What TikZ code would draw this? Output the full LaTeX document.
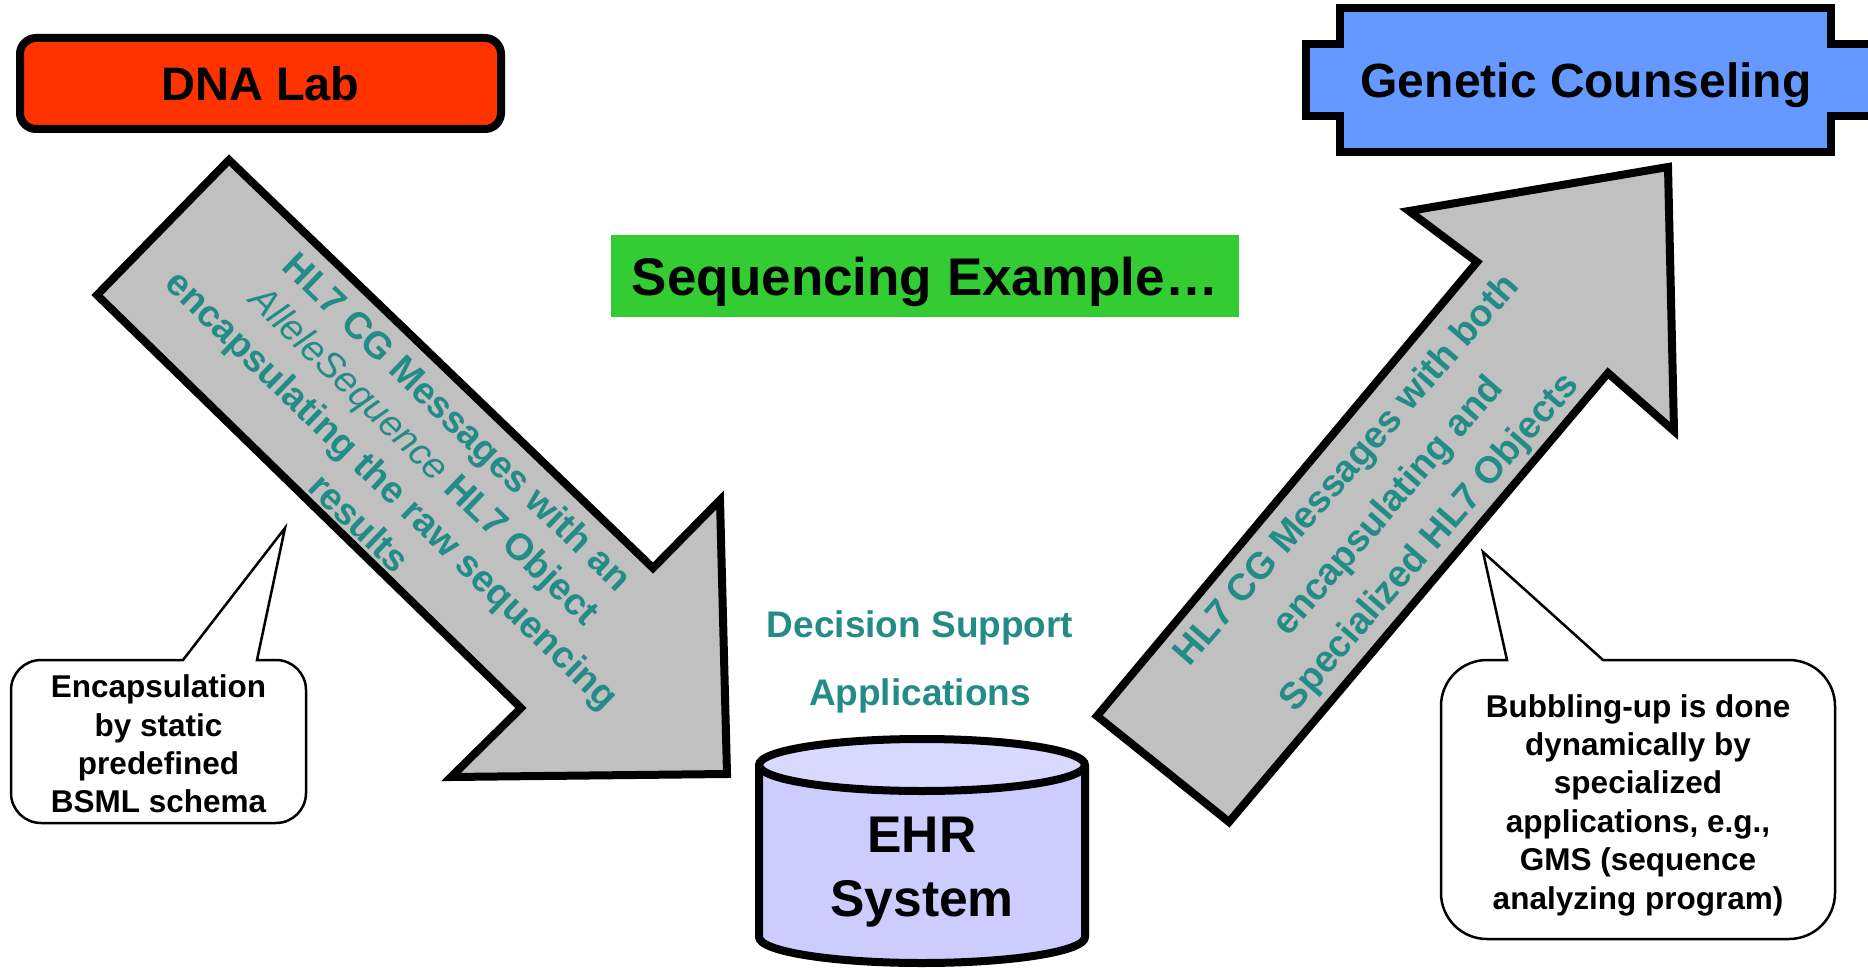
\documentclass[tikz,border=0pt]{standalone}
\usepackage{fontspec}
\setmainfont{Liberation Sans}
\definecolor{labred}{HTML}{FF3300}
\definecolor{counselblue}{HTML}{6699FF}
\definecolor{seqgreen}{HTML}{33CC33}
\definecolor{arrowgray}{HTML}{C0C0C0}
\definecolor{msgteal}{RGB}{35,140,135}
\definecolor{ehrbody}{HTML}{CCCCFF}
\definecolor{ehrtop}{HTML}{D9D9FF}
\tikzset{
  heavy/.style={draw=black, line width=8pt, line join=miter, miter limit=10},
  bigarrow/.style={heavy, fill=arrowgray},
  labbox/.style={heavy, fill=labred, rounded corners=16pt, minimum width=481pt,
    minimum height=91pt, inner sep=0pt, text depth=0pt,
    font=\bfseries\fontsize{47}{56}\selectfont},
  titletext/.style={inner sep=0pt, text depth=0pt, font=\bfseries\fontsize{48}{56}\selectfont},
  msg/.style={text=msgteal, align=center, inner sep=0pt,
    font=\bfseries\fontsize{37.5}{47}\selectfont},
  bubble/.style={draw=black, line width=2.5pt, fill=white, line join=miter},
  bubbletext/.style={align=center, inner sep=0pt, font=\bfseries\fontsize{31.5}{38.4}\selectfont}
}
\begin{document}
\begin{tikzpicture}[x=1pt,y=-1pt]
\useasboundingbox (0,0) rectangle (1868,968);
\clip (0,0) rectangle (1868,968);

% source of the data
\node[labbox] (dna) at (260.5,83.5) {DNA Lab};

% counseling box with side tabs
\draw[heavy, fill=counselblue]
  (1340,8) -- (1831,8) -- (1831,44) -- (1880,44) -- (1880,116) -- (1831,116)
  -- (1831,152) -- (1340,152) -- (1340,116) -- (1306,116) -- (1306,44)
  -- (1340,44) -- cycle;
\node[titletext] (gc) at (1586,80) {Genetic Counseling};

% heading
\node[fill=seqgreen, minimum width=628pt, minimum height=82pt, inner sep=0pt,
  text depth=0pt, font=\bfseries\fontsize{53}{60}\selectfont]
  (seq) at (925,276) {Sequencing Example…};

% downward block arrow
\draw[bigarrow] (229,160) -- (653,568) -- (720,500) -- (727,774)
  -- (451,777) -- (521,708) -- (97,295) -- cycle;
\node[msg, rotate=-44] (downmsg) at (409,472)
  {HL7 CG Messages with an\\
   {\mdseries\itshape AlleleSequence} HL7 Object\\
   encapsulating the raw sequencing\\
   results};

% upward block arrow
\draw[bigarrow] (1097,716) -- (1477,262) -- (1409,211) -- (1668,167)
  -- (1674,431) -- (1608,373) -- (1229,822) -- cycle;
\node[msg, rotate=49, font=\bfseries\fontsize{37.5}{55}\selectfont] (upmsg) at (1389,507)
  {HL7 CG Messages with both\\
   encapsulating and\\
   Specialized HL7 Objects};

% decision support label
\node[text=msgteal, align=center, inner sep=0pt,
  font=\bfseries\fontsize{37}{68}\selectfont] (dss) at (920,661.5)
  {Decision Support\\ Applications};

% EHR store drawn as a cylinder
\fill[ehrbody] (759,765) -- (759,937)
  arc[start angle=180, end angle=0, x radius=163, y radius=26]
  -- (1085,765) arc[start angle=0, end angle=180, x radius=163, y radius=26] -- cycle;
\draw[heavy] (759,765) -- (759,937)
  arc[start angle=180, end angle=0, x radius=163, y radius=26] -- (1085,765);
\draw[heavy, fill=ehrtop] (922,765) ellipse[x radius=163, y radius=26];
\node[align=center, inner sep=0pt, font=\bfseries\fontsize{51.6}{64}\selectfont]
  (ehr) at (922,872) {EHR\\ System};

% left speech bubble
\draw[bubble] (183,660) -- (285,528) -- (257,660) -- (276,660)
  arc[start angle=-90, end angle=0, radius=30] -- (306,793)
  arc[start angle=0, end angle=90, radius=30] -- (41,823)
  arc[start angle=90, end angle=180, radius=30] -- (11,690)
  arc[start angle=180, end angle=270, radius=30] -- cycle;
\node[bubbletext, font=\bfseries\fontsize{31.5}{38.2}\selectfont] (staticnote) at (158.5,744)
  {Encapsulation\\ by static\\ predefined\\ BSML schema};

% right speech bubble
\draw[bubble] (1507,660) -- (1483,552) -- (1603,660) -- (1789,660)
  arc[start angle=-90, end angle=0, radius=46] -- (1835,893)
  arc[start angle=0, end angle=90, radius=46] -- (1487,939)
  arc[start angle=90, end angle=180, radius=46] -- (1441,706)
  arc[start angle=180, end angle=270, radius=46] -- cycle;
\node[bubbletext] (dynnote) at (1638,805)
  {Bubbling-up is done\\ dynamically by\\ specialized\\ applications, e.g.,\\
   GMS (sequence\\ analyzing program)};
\end{tikzpicture}
\end{document}
